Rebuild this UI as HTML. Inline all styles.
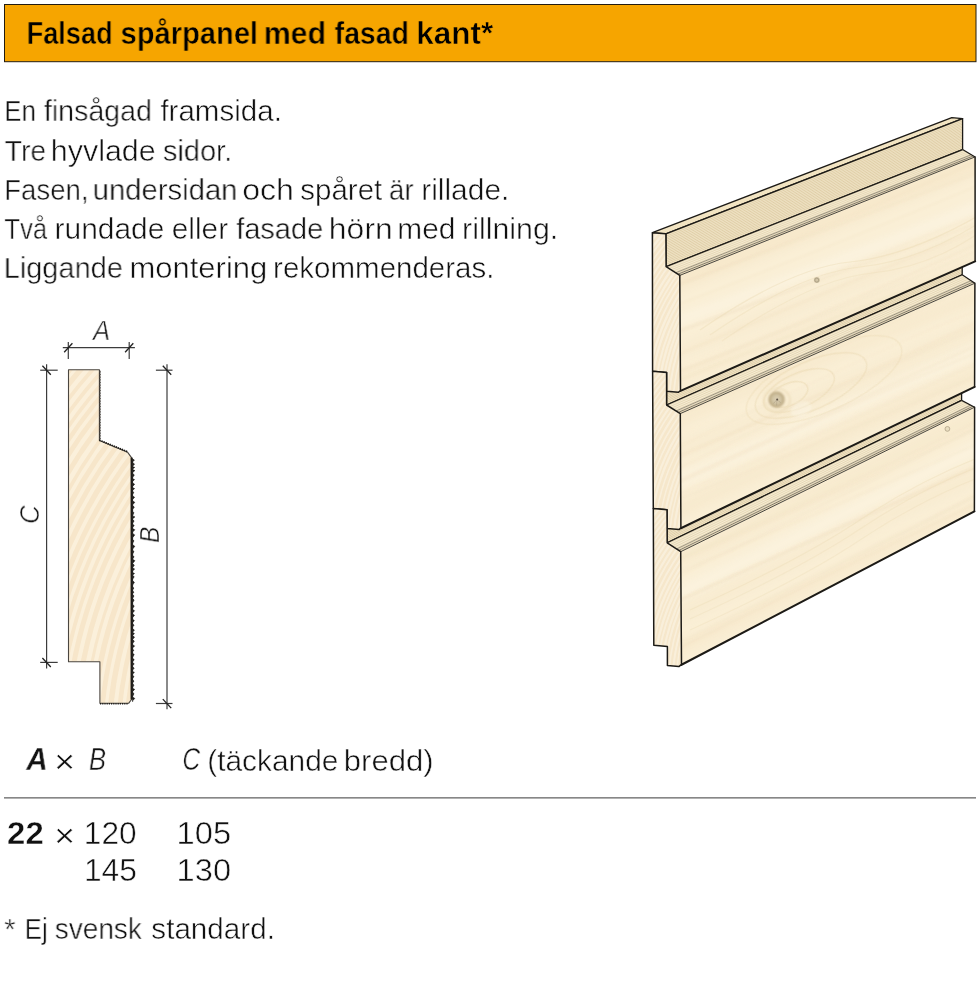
<!DOCTYPE html>
<html lang="sv">
<head>
<meta charset="utf-8">
<title>Falsad spårpanel med fasad kant</title>
<style>
html,body{margin:0;padding:0;background:#fff;}
body{width:980px;height:1007px;position:relative;overflow:hidden;font-family:"Liberation Sans",sans-serif;color:#111;}
.ln{position:absolute;left:0;top:0;margin:0;padding:0;width:0;height:0;font-size:0;font-weight:normal;}
.t{position:absolute;display:block;white-space:nowrap;line-height:1;transform-origin:0 0;will-change:transform;}
.b{font-weight:bold;}
.th{-webkit-text-stroke:0.5px #fff;}
.tho{-webkit-text-stroke:0.5px #F6A500;color:#000;}
.thb{-webkit-text-stroke:0.35px #fff;}
.i{font-style:italic;}
#art{position:absolute;left:0;top:0;}
.rot{position:absolute;width:0;height:0;transform:rotate(-90deg);transform-origin:0 0;will-change:transform;}
.rot span{position:absolute;left:0;top:-23px;line-height:1;white-space:nowrap;}
</style>
</head>
<body>
<svg id="art" width="980" height="1007" viewBox="0 0 980 1007">
<defs>
<filter id="bl05" x="-20%" y="-20%" width="140%" height="140%"><feGaussianBlur stdDeviation="0.5"/></filter>
<filter id="bl1" x="-20%" y="-20%" width="140%" height="140%"><feGaussianBlur stdDeviation="1.0"/></filter>
<filter id="bl4" x="-20%" y="-20%" width="140%" height="140%"><feGaussianBlur stdDeviation="4.0"/></filter>
<radialGradient id="knot"><stop offset="0" stop-color="#DCD1B6"/><stop offset=".55" stop-color="#CFC1A0"/><stop offset=".85" stop-color="#B7A47C"/><stop offset="1" stop-color="#DCCBA4" stop-opacity="0"/></radialGradient>
</defs>
<rect x="4.5" y="4.5" width="971.5" height="57.2" fill="#F6A500" stroke="#231c10" stroke-width="1"/>
<line x1="4" y1="797.9" x2="976" y2="797.9" stroke="#3a3a3a" stroke-width="1"/>
<g id="panel">
<polygon points="652.4,232.7 951.8,117.6 962.6,118.6 665.9,233.8" fill="#F2E4C2" stroke="#1c1a16" stroke-width="1.3" stroke-linejoin="round"/>
<polygon points="665.9,233.8 962.6,118.6 962.6,149.6 666.1,266.7" fill="#F4E9CE"/>
<path d="M665.9,234.62L962.6,119.38M665.9,236.27L962.6,120.92M665.9,237.91L962.6,122.47M665.9,239.56L962.6,124.02M665.9,241.20L962.6,125.57M666.0,242.85L962.6,127.12M666.0,244.49L962.6,128.67M666.0,246.14L962.6,130.22M666.0,247.78L962.6,131.78M666.0,249.43L962.6,133.32M666.0,251.07L962.6,134.88M666.0,252.72L962.6,136.42M666.0,254.36L962.6,137.97M666.0,256.01L962.6,139.53M666.0,257.65L962.6,141.07M666.1,259.30L962.6,142.62M666.1,260.94L962.6,144.17M666.1,262.59L962.6,145.72M666.1,264.23L962.6,147.28M666.1,265.88L962.6,148.82" stroke="#DBC89E" stroke-width="0.8" fill="none"/>
<polygon points="665.9,233.8 962.6,118.6 962.6,149.6 666.1,266.7" fill="none" stroke="#1c1a16" stroke-width="1.3" stroke-linejoin="round"/>
<polygon points="666.1,266.7 962.6,149.6 975.1,156.9 679.8,275.4" fill="#F5EBD2" stroke="none"/>
<path d="M667.1,267.32L963.5,150.12M669.0,268.56L965.3,151.16M671.0,269.81L967.1,152.21M673.0,271.05L968.9,153.25M674.9,272.29L970.6,154.29M676.9,273.54L972.4,155.34M678.8,274.78L974.2,156.38" stroke="#E2D2AC" stroke-width="0.75" fill="none"/>
<line x1="666.1" y1="266.7" x2="962.6" y2="149.6" stroke="#1c1a16" stroke-width="1.2"/>
<line x1="675.7" y1="272.79" x2="971.4" y2="154.71" stroke="#1c1a16" stroke-width="0.55" opacity="0.75"/>
<line x1="677.9" y1="274.18" x2="973.4" y2="155.88" stroke="#1c1a16" stroke-width="0.6" opacity="0.9"/>
<line x1="962.6" y1="149.6" x2="975.1" y2="156.9" stroke="#1c1a16" stroke-width="1.2"/>
<polygon points="666.6,372.4 962.2,243.8 962.2,274.8 666.6,405.0" fill="#F4E9CE"/>
<path d="M666.6,373.21L962.2,244.58M666.6,374.84L962.2,246.12M666.6,376.47L962.2,247.68M666.6,378.10L962.2,249.23M666.6,379.73L962.2,250.78M666.6,381.37L962.2,252.33M666.6,383.00L962.2,253.88M666.6,384.62L962.2,255.43M666.6,386.25L962.2,256.98M666.6,387.88L962.2,258.53M666.6,389.51L962.2,260.07M666.6,391.14L962.2,261.62M666.6,392.77L962.2,263.18M666.6,394.40L962.2,264.73M666.6,396.03L962.2,266.28M666.6,397.67L962.2,267.82M666.6,399.30L962.2,269.38M666.6,400.93L962.2,270.93M666.6,402.56L962.2,272.48M666.6,404.19L962.2,274.03" stroke="#DBC89E" stroke-width="0.8" fill="none"/>
<polygon points="666.6,372.4 962.2,243.8 962.2,274.8 666.6,405.0" fill="none" stroke="#1c1a16" stroke-width="1.3" stroke-linejoin="round"/>
<polygon points="666.6,405.0 962.2,274.8 974.9,283.2 680.3,413.6" fill="#F5EBD2" stroke="none"/>
<path d="M667.6,405.61L963.1,275.40M669.5,406.84L964.9,276.60M671.5,408.07L966.7,277.80M673.5,409.30L968.5,279.00M675.4,410.53L970.4,280.20M677.4,411.76L972.2,281.40M679.3,412.99L974.0,282.60" stroke="#E2D2AC" stroke-width="0.75" fill="none"/>
<line x1="666.6" y1="405.0" x2="962.2" y2="274.8" stroke="#1c1a16" stroke-width="1.2"/>
<line x1="676.2" y1="411.02" x2="971.1" y2="280.68" stroke="#1c1a16" stroke-width="0.55" opacity="0.75"/>
<line x1="678.4" y1="412.40" x2="973.1" y2="282.02" stroke="#1c1a16" stroke-width="0.6" opacity="0.9"/>
<line x1="962.2" y1="274.8" x2="974.9" y2="283.2" stroke="#1c1a16" stroke-width="1.2"/>
<polygon points="667.0,509.8 961.6,369.4 961.6,400.4 667.2,542.8" fill="#F4E9CE"/>
<path d="M667.0,510.62L961.6,370.17M667.0,512.27L961.6,371.72M667.0,513.92L961.6,373.27M667.0,515.58L961.6,374.82M667.0,517.23L961.6,376.38M667.1,518.88L961.6,377.92M667.1,520.52L961.6,379.47M667.1,522.17L961.6,381.02M667.1,523.82L961.6,382.57M667.1,525.48L961.6,384.12M667.1,527.12L961.6,385.67M667.1,528.77L961.6,387.22M667.1,530.42L961.6,388.77M667.1,532.07L961.6,390.32M667.1,533.73L961.6,391.88M667.2,535.38L961.6,393.42M667.2,537.02L961.6,394.97M667.2,538.67L961.6,396.52M667.2,540.32L961.6,398.07M667.2,541.97L961.6,399.62" stroke="#DBC89E" stroke-width="0.8" fill="none"/>
<polygon points="667.0,509.8 961.6,369.4 961.6,400.4 667.2,542.8" fill="none" stroke="#1c1a16" stroke-width="1.3" stroke-linejoin="round"/>
<polygon points="667.2,542.8 961.6,400.4 974.6,407.2 680.7,551.7" fill="#F5EBD2" stroke="none"/>
<path d="M668.2,543.44L962.5,400.89M670.1,544.71L964.4,401.86M672.0,545.98L966.2,402.83M674.0,547.25L968.1,403.80M675.9,548.52L970.0,404.77M677.8,549.79L971.8,405.74M679.7,551.06L973.7,406.71" stroke="#E2D2AC" stroke-width="0.75" fill="none"/>
<line x1="667.2" y1="542.8" x2="961.6" y2="400.4" stroke="#1c1a16" stroke-width="1.2"/>
<line x1="676.7" y1="549.03" x2="970.7" y2="405.16" stroke="#1c1a16" stroke-width="0.55" opacity="0.75"/>
<line x1="678.8" y1="550.45" x2="972.8" y2="406.25" stroke="#1c1a16" stroke-width="0.6" opacity="0.9"/>
<line x1="961.6" y1="400.4" x2="974.6" y2="407.2" stroke="#1c1a16" stroke-width="1.2"/>
<clipPath id="fc0"><polygon points="679.8,275.4 975.1,156.9 975.1,261.0 680.5,390.5"/></clipPath>
<polygon points="679.8,275.4 975.1,156.9 975.1,261.0 680.5,390.5" fill="#FAEFD6"/>
<g clip-path="url(#fc0)"><path d="M669.8,282.3 Q827.5,220.0 985.1,158.7" fill="none" stroke="#F3E0BE" stroke-width="22.0" opacity="0.38" filter="url(#bl4)"/><path d="M670.1,323.7 Q827.6,266.3 985.1,204.0" fill="none" stroke="#FDF7E8" stroke-width="11.0" opacity="0.5" filter="url(#bl4)"/><path d="M670.3,356.0 Q827.7,293.5 985.1,232.7" fill="none" stroke="#F4E4C5" stroke-width="13.2" opacity="0.28" filter="url(#bl4)"/><path d="M670.5,382.4 Q827.8,320.3 985.1,257.5" fill="none" stroke="#F3E1C0" stroke-width="11.0" opacity="0.32" filter="url(#bl4)"/><path d="M669.9,288.0 Q878.6,206.4 985.1,157.4" fill="none" stroke="#F0DCBA" stroke-width="1.9" opacity="0.14" filter="url(#bl1)"/><path d="M670.3,357.9 Q791.0,306.5 985.1,226.6" fill="none" stroke="#F0DCBA" stroke-width="2.4" opacity="0.23" filter="url(#bl1)"/><path d="M670.0,307.6 Q874.9,229.5 985.1,182.6" fill="none" stroke="#F0DCBA" stroke-width="1.7" opacity="0.19" filter="url(#bl1)"/><path d="M669.9,287.5 Q859.8,217.0 985.1,170.3" fill="none" stroke="#F0DCBA" stroke-width="1.7" opacity="0.22" filter="url(#bl1)"/><path d="M670.4,373.7 Q844.0,309.2 985.1,247.3" fill="none" stroke="#F0DCBA" stroke-width="1.6" opacity="0.18" filter="url(#bl1)"/><path d="M670.5,383.8 Q860.2,307.9 985.1,259.3" fill="none" stroke="#F0DCBA" stroke-width="1.9" opacity="0.18" filter="url(#bl1)"/><path d="M670.2,334.1 Q811.5,283.3 985.1,220.5" fill="none" stroke="#F0DCBA" stroke-width="2.6" opacity="0.21" filter="url(#bl1)"/><path d="M670.4,376.0 Q868.7,295.0 985.1,240.2" fill="none" stroke="#F0DCBA" stroke-width="2.5" opacity="0.21" filter="url(#bl1)"/><path d="M670.2,334.3 Q786.0,293.0 985.1,212.3" fill="none" stroke="#F0DCBA" stroke-width="2.8" opacity="0.12" filter="url(#bl1)"/><path d="M700,330 Q790,268 850,262 T985,212.0" fill="none" stroke="#EBDAB3" stroke-width="1.2" opacity="0.4" filter="url(#bl05)"/><path d="M710,335 Q800,273 860,267 T985,219.5" fill="none" stroke="#EBDAB3" stroke-width="1.2" opacity="0.35" filter="url(#bl05)"/><path d="M722,341 Q812,279 872,273 T985,228.5" fill="none" stroke="#EBDAB3" stroke-width="1.2" opacity="0.3" filter="url(#bl05)"/></g>
<polyline points="975.1,156.9 975.1,261.0" fill="none" stroke="#1c1a16" stroke-width="1.5" stroke-linecap="round"/>
<polyline points="975.1,261.4 680.5,390.9" fill="none" stroke="#1c1a16" stroke-width="2.1" stroke-linecap="round"/>
<polyline points="679.8,275.4 975.1,156.9" fill="none" stroke="#1c1a16" stroke-width="0.8"/>
<clipPath id="fc1"><polygon points="680.3,413.6 974.9,283.2 974.6,386.5 680.9,527.8"/></clipPath>
<polygon points="680.3,413.6 974.9,283.2 974.6,386.5 680.9,527.8" fill="#FAEFD6"/>
<g clip-path="url(#fc1)"><path d="M670.3,422.7 Q827.6,353.9 984.9,292.5" fill="none" stroke="#F4E2C1" stroke-width="15.4" opacity="0.32" filter="url(#bl4)"/><path d="M670.5,453.6 Q827.6,394.4 984.8,325.1" fill="none" stroke="#F4E5C7" stroke-width="17.6" opacity="0.28" filter="url(#bl4)"/><path d="M670.7,484.4 Q827.7,417.6 984.7,346.8" fill="none" stroke="#FDF7E8" stroke-width="13.2" opacity="0.42" filter="url(#bl4)"/><path d="M670.8,514.1 Q827.7,439.0 984.6,370.6" fill="none" stroke="#F3E1C0" stroke-width="15.4" opacity="0.32" filter="url(#bl4)"/><path d="M670.5,450.7 Q883.1,346.2 984.8,307.6" fill="none" stroke="#F0DCBA" stroke-width="1.7" opacity="0.11" filter="url(#bl1)"/><path d="M670.7,497.5 Q807.3,440.2 984.7,359.8" fill="none" stroke="#F0DCBA" stroke-width="2.0" opacity="0.13" filter="url(#bl1)"/><path d="M670.5,461.1 Q865.7,373.9 984.8,318.6" fill="none" stroke="#F0DCBA" stroke-width="2.5" opacity="0.22" filter="url(#bl1)"/><path d="M670.5,458.3 Q816.4,398.1 984.8,322.9" fill="none" stroke="#F0DCBA" stroke-width="1.4" opacity="0.16" filter="url(#bl1)"/><path d="M670.6,472.6 Q851.8,380.6 984.8,326.3" fill="none" stroke="#F0DCBA" stroke-width="2.3" opacity="0.12" filter="url(#bl1)"/><path d="M670.3,418.2 Q786.5,370.9 984.9,279.9" fill="none" stroke="#F0DCBA" stroke-width="2.6" opacity="0.15" filter="url(#bl1)"/><path d="M670.7,486.4 Q871.9,394.6 984.7,349.3" fill="none" stroke="#F0DCBA" stroke-width="2.8" opacity="0.20" filter="url(#bl1)"/><path d="M670.7,484.3 Q772.7,437.6 984.7,342.0" fill="none" stroke="#F0DCBA" stroke-width="2.9" opacity="0.22" filter="url(#bl1)"/><path d="M670.8,501.9 Q860.0,427.1 984.6,372.1" fill="none" stroke="#F0DCBA" stroke-width="2.7" opacity="0.12" filter="url(#bl1)"/><ellipse cx="789" cy="394.5" rx="20" ry="11" transform="rotate(-24 789 394.5)" fill="none" stroke="#E9D7AF" stroke-width="1.3" opacity="0.55" filter="url(#bl05)"/><ellipse cx="799" cy="390.5" rx="38" ry="17" transform="rotate(-24 799 390.5)" fill="none" stroke="#E9D7AF" stroke-width="1.3" opacity="0.5" filter="url(#bl05)"/><ellipse cx="811" cy="385.5" rx="60" ry="24" transform="rotate(-24 811 385.5)" fill="none" stroke="#E9D7AF" stroke-width="1.3" opacity="0.45" filter="url(#bl05)"/><ellipse cx="824" cy="380" rx="84" ry="31" transform="rotate(-24 824 380)" fill="none" stroke="#E9D7AF" stroke-width="1.3" opacity="0.35" filter="url(#bl05)"/><ellipse cx="801" cy="409" rx="11" ry="7" transform="rotate(-24 801 409)" fill="#FDF8EA" opacity=".4" filter="url(#bl1)"/></g>
<polyline points="974.9,283.2 974.6,386.5" fill="none" stroke="#1c1a16" stroke-width="1.5" stroke-linecap="round"/>
<polyline points="974.6,386.9 680.9,528.2" fill="none" stroke="#1c1a16" stroke-width="2.1" stroke-linecap="round"/>
<polyline points="680.3,413.6 974.9,283.2" fill="none" stroke="#1c1a16" stroke-width="0.8"/>
<clipPath id="fc2"><polygon points="680.7,551.7 974.6,407.2 974.4,511.0 681.5,664.4"/></clipPath>
<polygon points="680.7,551.7 974.6,407.2 974.4,511.0 681.5,664.4" fill="#FAEFD6"/>
<g clip-path="url(#fc2)"><path d="M670.8,563.0 Q827.7,489.5 984.6,413.2" fill="none" stroke="#F4E2C1" stroke-width="17.6" opacity="0.32" filter="url(#bl4)"/><path d="M671.0,596.8 Q827.8,523.2 984.5,444.6" fill="none" stroke="#FDF7E8" stroke-width="13.2" opacity="0.42" filter="url(#bl4)"/><path d="M671.2,619.3 Q827.8,543.7 984.5,470.8" fill="none" stroke="#F4E4C5" stroke-width="15.4" opacity="0.28" filter="url(#bl4)"/><path d="M671.4,653.1 Q827.9,578.4 984.4,502.1" fill="none" stroke="#F4E2C1" stroke-width="13.2" opacity="0.32" filter="url(#bl4)"/><path d="M670.8,561.0 Q830.0,493.9 984.6,418.5" fill="none" stroke="#F0DCBA" stroke-width="2.6" opacity="0.15" filter="url(#bl1)"/><path d="M670.9,575.5 Q850.0,499.4 984.5,440.7" fill="none" stroke="#F0DCBA" stroke-width="2.1" opacity="0.17" filter="url(#bl1)"/><path d="M670.9,579.6 Q842.0,495.9 984.6,423.7" fill="none" stroke="#F0DCBA" stroke-width="2.5" opacity="0.13" filter="url(#bl1)"/><path d="M670.8,563.9 Q828.8,497.3 984.6,424.8" fill="none" stroke="#F0DCBA" stroke-width="2.1" opacity="0.16" filter="url(#bl1)"/><path d="M671.4,646.6 Q838.3,564.9 984.4,490.7" fill="none" stroke="#F0DCBA" stroke-width="2.1" opacity="0.18" filter="url(#bl1)"/><path d="M671.1,603.8 Q865.9,517.1 984.5,463.1" fill="none" stroke="#F0DCBA" stroke-width="2.2" opacity="0.23" filter="url(#bl1)"/><path d="M671.1,604.0 Q849.3,521.8 984.5,463.2" fill="none" stroke="#F0DCBA" stroke-width="2.6" opacity="0.18" filter="url(#bl1)"/><path d="M671.4,652.5 Q883.5,547.4 984.4,499.6" fill="none" stroke="#F0DCBA" stroke-width="2.0" opacity="0.23" filter="url(#bl1)"/><path d="M671.4,650.4 Q869.9,553.1 984.4,490.9" fill="none" stroke="#F0DCBA" stroke-width="2.0" opacity="0.14" filter="url(#bl1)"/><path d="M690,610 Q800,560 860,520 T985,455" fill="none" stroke="#EBDAB3" stroke-width="1.2" opacity="0.35" filter="url(#bl05)"/><path d="M690,619 Q800,569 860,529 T985,464" fill="none" stroke="#EBDAB3" stroke-width="1.2" opacity="0.3" filter="url(#bl05)"/><path d="M690,630 Q800,580 860,540 T985,475" fill="none" stroke="#EBDAB3" stroke-width="1.2" opacity="0.3" filter="url(#bl05)"/></g>
<polyline points="974.6,407.2 974.4,511.0" fill="none" stroke="#1c1a16" stroke-width="1.5" stroke-linecap="round"/>
<polyline points="974.4,511.4 681.5,664.8" fill="none" stroke="#1c1a16" stroke-width="2.1" stroke-linecap="round"/>
<polyline points="680.7,551.7 974.6,407.2" fill="none" stroke="#1c1a16" stroke-width="0.8"/>
<clipPath id="ec0"><polygon points="652.4,232.7 665.9,233.8 666.1,266.7 679.8,275.4 680.5,390.5 678.3,392.3 666.6,391.3 666.6,372.4 652.6,371.2"/></clipPath>
<polygon points="652.4,232.7 665.9,233.8 666.1,266.7 679.8,275.4 680.5,390.5 678.3,392.3 666.6,391.3 666.6,372.4 652.6,371.2" fill="#F6E7CB"/>
<g clip-path="url(#ec0)"><circle cx="867.4" cy="410.7" r="170.0" fill="none" stroke="#FCF5E6" stroke-width="1.9" opacity=".6"/><circle cx="867.4" cy="410.7" r="174.5" fill="none" stroke="#FCF5E6" stroke-width="1.5" opacity=".6"/><circle cx="867.4" cy="410.7" r="178.2" fill="none" stroke="#FCF5E6" stroke-width="2.3" opacity=".6"/><circle cx="867.4" cy="410.7" r="182.4" fill="none" stroke="#FCF5E6" stroke-width="1.6" opacity=".6"/><circle cx="867.4" cy="410.7" r="186.2" fill="none" stroke="#FCF5E6" stroke-width="2.2" opacity=".6"/><circle cx="867.4" cy="410.7" r="190.1" fill="none" stroke="#FCF5E6" stroke-width="1.5" opacity=".6"/><circle cx="867.4" cy="410.7" r="194.6" fill="none" stroke="#FCF5E6" stroke-width="1.6" opacity=".6"/><circle cx="867.4" cy="410.7" r="198.8" fill="none" stroke="#FCF5E6" stroke-width="2.0" opacity=".6"/><circle cx="867.4" cy="410.7" r="202.7" fill="none" stroke="#FCF5E6" stroke-width="2.3" opacity=".6"/><circle cx="867.4" cy="410.7" r="206.3" fill="none" stroke="#FCF5E6" stroke-width="2.0" opacity=".6"/><circle cx="867.4" cy="410.7" r="209.9" fill="none" stroke="#FCF5E6" stroke-width="2.3" opacity=".6"/><circle cx="867.4" cy="410.7" r="213.5" fill="none" stroke="#FCF5E6" stroke-width="1.9" opacity=".6"/><circle cx="867.4" cy="410.7" r="217.9" fill="none" stroke="#FCF5E6" stroke-width="2.2" opacity=".6"/><circle cx="867.4" cy="410.7" r="221.4" fill="none" stroke="#FCF5E6" stroke-width="2.2" opacity=".6"/><circle cx="867.4" cy="410.7" r="225.8" fill="none" stroke="#FCF5E6" stroke-width="1.8" opacity=".6"/><circle cx="867.4" cy="410.7" r="230.1" fill="none" stroke="#FCF5E6" stroke-width="1.7" opacity=".6"/><circle cx="867.4" cy="410.7" r="233.7" fill="none" stroke="#FCF5E6" stroke-width="1.6" opacity=".6"/><circle cx="867.4" cy="410.7" r="237.4" fill="none" stroke="#FCF5E6" stroke-width="2.2" opacity=".6"/><circle cx="867.4" cy="410.7" r="241.4" fill="none" stroke="#FCF5E6" stroke-width="2.3" opacity=".6"/><circle cx="867.4" cy="410.7" r="245.9" fill="none" stroke="#FCF5E6" stroke-width="1.7" opacity=".6"/><circle cx="867.4" cy="410.7" r="249.8" fill="none" stroke="#FCF5E6" stroke-width="1.6" opacity=".6"/><circle cx="867.4" cy="410.7" r="253.9" fill="none" stroke="#FCF5E6" stroke-width="2.0" opacity=".6"/><circle cx="867.4" cy="410.7" r="258.0" fill="none" stroke="#FCF5E6" stroke-width="1.6" opacity=".6"/><circle cx="867.4" cy="410.7" r="262.1" fill="none" stroke="#FCF5E6" stroke-width="1.6" opacity=".6"/><circle cx="867.4" cy="410.7" r="266.5" fill="none" stroke="#FCF5E6" stroke-width="1.9" opacity=".6"/><circle cx="867.4" cy="410.7" r="270.1" fill="none" stroke="#FCF5E6" stroke-width="2.3" opacity=".6"/><circle cx="867.4" cy="410.7" r="274.6" fill="none" stroke="#FCF5E6" stroke-width="1.8" opacity=".6"/><circle cx="867.4" cy="410.7" r="279.1" fill="none" stroke="#FCF5E6" stroke-width="1.7" opacity=".6"/><circle cx="867.4" cy="410.7" r="283.1" fill="none" stroke="#FCF5E6" stroke-width="2.0" opacity=".6"/><circle cx="867.4" cy="410.7" r="287.5" fill="none" stroke="#FCF5E6" stroke-width="1.6" opacity=".6"/><circle cx="867.4" cy="410.7" r="290.9" fill="none" stroke="#FCF5E6" stroke-width="1.6" opacity=".6"/><circle cx="867.4" cy="410.7" r="294.8" fill="none" stroke="#FCF5E6" stroke-width="2.1" opacity=".6"/><circle cx="867.4" cy="410.7" r="299.1" fill="none" stroke="#FCF5E6" stroke-width="1.6" opacity=".6"/></g>
<polygon points="652.4,232.7 665.9,233.8 666.1,266.7 679.8,275.4 680.5,390.5 678.3,392.3 666.6,391.3 666.6,372.4 652.6,371.2" fill="none" stroke="#1c1a16" stroke-width="1.5" stroke-linejoin="round"/>
<clipPath id="ec1"><polygon points="652.6,371.2 666.6,372.4 666.6,405.0 680.3,413.6 680.9,527.8 679.3,529.4 667.1,528.5 667.0,509.8 653.3,508.6"/></clipPath>
<polygon points="652.6,371.2 666.6,372.4 666.6,405.0 680.3,413.6 680.9,527.8 679.3,529.4 667.1,528.5 667.0,509.8 653.3,508.6" fill="#F6E7CB"/>
<g clip-path="url(#ec1)"><circle cx="867.6" cy="549.2" r="170.0" fill="none" stroke="#FCF5E6" stroke-width="1.8" opacity=".6"/><circle cx="867.6" cy="549.2" r="173.7" fill="none" stroke="#FCF5E6" stroke-width="1.6" opacity=".6"/><circle cx="867.6" cy="549.2" r="178.2" fill="none" stroke="#FCF5E6" stroke-width="2.0" opacity=".6"/><circle cx="867.6" cy="549.2" r="182.4" fill="none" stroke="#FCF5E6" stroke-width="1.9" opacity=".6"/><circle cx="867.6" cy="549.2" r="186.3" fill="none" stroke="#FCF5E6" stroke-width="2.1" opacity=".6"/><circle cx="867.6" cy="549.2" r="190.4" fill="none" stroke="#FCF5E6" stroke-width="2.1" opacity=".6"/><circle cx="867.6" cy="549.2" r="194.5" fill="none" stroke="#FCF5E6" stroke-width="2.2" opacity=".6"/><circle cx="867.6" cy="549.2" r="198.5" fill="none" stroke="#FCF5E6" stroke-width="1.6" opacity=".6"/><circle cx="867.6" cy="549.2" r="202.1" fill="none" stroke="#FCF5E6" stroke-width="2.1" opacity=".6"/><circle cx="867.6" cy="549.2" r="205.7" fill="none" stroke="#FCF5E6" stroke-width="2.0" opacity=".6"/><circle cx="867.6" cy="549.2" r="209.8" fill="none" stroke="#FCF5E6" stroke-width="1.5" opacity=".6"/><circle cx="867.6" cy="549.2" r="214.1" fill="none" stroke="#FCF5E6" stroke-width="1.5" opacity=".6"/><circle cx="867.6" cy="549.2" r="218.6" fill="none" stroke="#FCF5E6" stroke-width="2.2" opacity=".6"/><circle cx="867.6" cy="549.2" r="222.2" fill="none" stroke="#FCF5E6" stroke-width="2.1" opacity=".6"/><circle cx="867.6" cy="549.2" r="226.5" fill="none" stroke="#FCF5E6" stroke-width="1.6" opacity=".6"/><circle cx="867.6" cy="549.2" r="230.7" fill="none" stroke="#FCF5E6" stroke-width="1.6" opacity=".6"/><circle cx="867.6" cy="549.2" r="235.2" fill="none" stroke="#FCF5E6" stroke-width="2.1" opacity=".6"/><circle cx="867.6" cy="549.2" r="239.8" fill="none" stroke="#FCF5E6" stroke-width="1.5" opacity=".6"/><circle cx="867.6" cy="549.2" r="243.6" fill="none" stroke="#FCF5E6" stroke-width="2.0" opacity=".6"/><circle cx="867.6" cy="549.2" r="247.7" fill="none" stroke="#FCF5E6" stroke-width="1.6" opacity=".6"/><circle cx="867.6" cy="549.2" r="252.2" fill="none" stroke="#FCF5E6" stroke-width="2.2" opacity=".6"/><circle cx="867.6" cy="549.2" r="255.9" fill="none" stroke="#FCF5E6" stroke-width="1.6" opacity=".6"/><circle cx="867.6" cy="549.2" r="260.1" fill="none" stroke="#FCF5E6" stroke-width="1.8" opacity=".6"/><circle cx="867.6" cy="549.2" r="264.3" fill="none" stroke="#FCF5E6" stroke-width="1.9" opacity=".6"/><circle cx="867.6" cy="549.2" r="268.2" fill="none" stroke="#FCF5E6" stroke-width="1.5" opacity=".6"/><circle cx="867.6" cy="549.2" r="271.8" fill="none" stroke="#FCF5E6" stroke-width="1.9" opacity=".6"/><circle cx="867.6" cy="549.2" r="276.0" fill="none" stroke="#FCF5E6" stroke-width="1.8" opacity=".6"/><circle cx="867.6" cy="549.2" r="280.3" fill="none" stroke="#FCF5E6" stroke-width="1.9" opacity=".6"/><circle cx="867.6" cy="549.2" r="284.8" fill="none" stroke="#FCF5E6" stroke-width="2.0" opacity=".6"/><circle cx="867.6" cy="549.2" r="288.6" fill="none" stroke="#FCF5E6" stroke-width="1.6" opacity=".6"/><circle cx="867.6" cy="549.2" r="292.1" fill="none" stroke="#FCF5E6" stroke-width="1.5" opacity=".6"/><circle cx="867.6" cy="549.2" r="296.5" fill="none" stroke="#FCF5E6" stroke-width="2.2" opacity=".6"/></g>
<polygon points="652.6,371.2 666.6,372.4 666.6,405.0 680.3,413.6 680.9,527.8 679.3,529.4 667.1,528.5 667.0,509.8 653.3,508.6" fill="none" stroke="#1c1a16" stroke-width="1.5" stroke-linejoin="round"/>
<clipPath id="ec2"><polygon points="653.3,508.6 667.0,509.8 667.2,542.8 680.7,551.7 681.5,664.4 678.9,666.6 667.4,665.6 667.4,646.6 653.8,645.2"/></clipPath>
<polygon points="653.3,508.6 667.0,509.8 667.2,542.8 680.7,551.7 681.5,664.4 678.9,666.6 667.4,665.6 667.4,646.6 653.8,645.2" fill="#F6E7CB"/>
<g clip-path="url(#ec2)"><circle cx="868.3" cy="686.6" r="170.0" fill="none" stroke="#FCF5E6" stroke-width="2.0" opacity=".6"/><circle cx="868.3" cy="686.6" r="173.4" fill="none" stroke="#FCF5E6" stroke-width="1.7" opacity=".6"/><circle cx="868.3" cy="686.6" r="177.1" fill="none" stroke="#FCF5E6" stroke-width="2.1" opacity=".6"/><circle cx="868.3" cy="686.6" r="181.3" fill="none" stroke="#FCF5E6" stroke-width="2.2" opacity=".6"/><circle cx="868.3" cy="686.6" r="184.8" fill="none" stroke="#FCF5E6" stroke-width="1.8" opacity=".6"/><circle cx="868.3" cy="686.6" r="188.2" fill="none" stroke="#FCF5E6" stroke-width="1.7" opacity=".6"/><circle cx="868.3" cy="686.6" r="192.3" fill="none" stroke="#FCF5E6" stroke-width="1.5" opacity=".6"/><circle cx="868.3" cy="686.6" r="195.9" fill="none" stroke="#FCF5E6" stroke-width="2.0" opacity=".6"/><circle cx="868.3" cy="686.6" r="199.9" fill="none" stroke="#FCF5E6" stroke-width="1.7" opacity=".6"/><circle cx="868.3" cy="686.6" r="204.1" fill="none" stroke="#FCF5E6" stroke-width="2.1" opacity=".6"/><circle cx="868.3" cy="686.6" r="207.5" fill="none" stroke="#FCF5E6" stroke-width="2.1" opacity=".6"/><circle cx="868.3" cy="686.6" r="211.7" fill="none" stroke="#FCF5E6" stroke-width="1.8" opacity=".6"/><circle cx="868.3" cy="686.6" r="215.3" fill="none" stroke="#FCF5E6" stroke-width="2.3" opacity=".6"/><circle cx="868.3" cy="686.6" r="219.1" fill="none" stroke="#FCF5E6" stroke-width="1.6" opacity=".6"/><circle cx="868.3" cy="686.6" r="222.6" fill="none" stroke="#FCF5E6" stroke-width="2.2" opacity=".6"/><circle cx="868.3" cy="686.6" r="226.7" fill="none" stroke="#FCF5E6" stroke-width="2.1" opacity=".6"/><circle cx="868.3" cy="686.6" r="231.0" fill="none" stroke="#FCF5E6" stroke-width="1.9" opacity=".6"/><circle cx="868.3" cy="686.6" r="235.6" fill="none" stroke="#FCF5E6" stroke-width="1.8" opacity=".6"/><circle cx="868.3" cy="686.6" r="239.6" fill="none" stroke="#FCF5E6" stroke-width="2.2" opacity=".6"/><circle cx="868.3" cy="686.6" r="243.8" fill="none" stroke="#FCF5E6" stroke-width="2.2" opacity=".6"/><circle cx="868.3" cy="686.6" r="247.9" fill="none" stroke="#FCF5E6" stroke-width="2.1" opacity=".6"/><circle cx="868.3" cy="686.6" r="251.3" fill="none" stroke="#FCF5E6" stroke-width="1.7" opacity=".6"/><circle cx="868.3" cy="686.6" r="255.1" fill="none" stroke="#FCF5E6" stroke-width="1.6" opacity=".6"/><circle cx="868.3" cy="686.6" r="258.8" fill="none" stroke="#FCF5E6" stroke-width="1.6" opacity=".6"/><circle cx="868.3" cy="686.6" r="262.5" fill="none" stroke="#FCF5E6" stroke-width="2.0" opacity=".6"/><circle cx="868.3" cy="686.6" r="266.3" fill="none" stroke="#FCF5E6" stroke-width="1.8" opacity=".6"/><circle cx="868.3" cy="686.6" r="270.0" fill="none" stroke="#FCF5E6" stroke-width="1.7" opacity=".6"/><circle cx="868.3" cy="686.6" r="274.5" fill="none" stroke="#FCF5E6" stroke-width="2.0" opacity=".6"/><circle cx="868.3" cy="686.6" r="278.6" fill="none" stroke="#FCF5E6" stroke-width="1.6" opacity=".6"/><circle cx="868.3" cy="686.6" r="282.9" fill="none" stroke="#FCF5E6" stroke-width="1.6" opacity=".6"/><circle cx="868.3" cy="686.6" r="286.8" fill="none" stroke="#FCF5E6" stroke-width="2.3" opacity=".6"/><circle cx="868.3" cy="686.6" r="290.9" fill="none" stroke="#FCF5E6" stroke-width="1.9" opacity=".6"/><circle cx="868.3" cy="686.6" r="295.2" fill="none" stroke="#FCF5E6" stroke-width="2.2" opacity=".6"/><circle cx="868.3" cy="686.6" r="299.5" fill="none" stroke="#FCF5E6" stroke-width="1.7" opacity=".6"/></g>
<polygon points="653.3,508.6 667.0,509.8 667.2,542.8 680.7,551.7 681.5,664.4 678.9,666.6 667.4,665.6 667.4,646.6 653.8,645.2" fill="none" stroke="#1c1a16" stroke-width="1.5" stroke-linejoin="round"/>
<ellipse cx="777" cy="400" rx="13" ry="11.5" fill="none" stroke="#EEDFBD" stroke-width="2.2" opacity=".8" filter="url(#bl1)"/>
<circle cx="776.6" cy="399.5" r="8.8" fill="url(#knot)" filter="url(#bl1)"/>
<path d="M776.9,399.6 L773.5,403.5 M776.9,399.6 L780.8,402.8 M776.9,399.6 L776.6,405.5" stroke="#9a8d74" stroke-width="0.6" opacity=".6" fill="none"/>
<circle cx="777.2" cy="399.4" r="1.0" fill="#5b5042"/>
<circle cx="816.8" cy="280.1" r="3.0" fill="#D2C5A6" filter="url(#bl05)"/>
<circle cx="816.8" cy="280.1" r="2.0" fill="none" stroke="#A99C82" stroke-width="0.9" filter="url(#bl05)"/>
<circle cx="947.4" cy="428.9" r="2.4" fill="#E9DDBF" stroke="#B5A78C" stroke-width="0.9" filter="url(#bl05)"/>
</g>
<g id="section">
<clipPath id="pc"><path d="M68.5,369.7 L99.4,369.7 L99.4,440.4 L127.3,451.9 L131.5,457.6 L131.5,699.5 L128.6,703.3 L99.9,703.3 L99.9,661.8 L68.5,661.8 Z"/></clipPath>
<path d="M68.5,369.7 L99.4,369.7 L99.4,440.4 L127.3,451.9 L131.5,457.6 L131.5,699.5 L128.6,703.3 L99.9,703.3 L99.9,661.8 L68.5,661.8 Z" fill="#F7E6CA"/>
<g clip-path="url(#pc)" filter="url(#bl05)"><circle cx="527" cy="749" r="380.0" fill="none" stroke="#FBF2DE" stroke-width="3.7" opacity=".85"/><circle cx="527" cy="749" r="388.5" fill="none" stroke="#FBF2DE" stroke-width="4.5" opacity=".85"/><circle cx="527" cy="749" r="396.9" fill="none" stroke="#FBF2DE" stroke-width="3.8" opacity=".85"/><circle cx="527" cy="749" r="405.4" fill="none" stroke="#FBF2DE" stroke-width="3.3" opacity=".85"/><circle cx="527" cy="749" r="413.8" fill="none" stroke="#FBF2DE" stroke-width="4.0" opacity=".85"/><circle cx="527" cy="749" r="422.8" fill="none" stroke="#FBF2DE" stroke-width="3.2" opacity=".85"/><circle cx="527" cy="749" r="430.8" fill="none" stroke="#FBF2DE" stroke-width="3.1" opacity=".85"/><circle cx="527" cy="749" r="439.9" fill="none" stroke="#FBF2DE" stroke-width="4.1" opacity=".85"/><circle cx="527" cy="749" r="447.3" fill="none" stroke="#FBF2DE" stroke-width="4.6" opacity=".85"/><circle cx="527" cy="749" r="456.7" fill="none" stroke="#FBF2DE" stroke-width="4.0" opacity=".85"/><circle cx="527" cy="749" r="465.3" fill="none" stroke="#FBF2DE" stroke-width="3.3" opacity=".85"/><circle cx="527" cy="749" r="472.7" fill="none" stroke="#FBF2DE" stroke-width="3.8" opacity=".85"/><circle cx="527" cy="749" r="480.3" fill="none" stroke="#FBF2DE" stroke-width="3.3" opacity=".85"/><circle cx="527" cy="749" r="488.1" fill="none" stroke="#FBF2DE" stroke-width="3.0" opacity=".85"/><circle cx="527" cy="749" r="496.5" fill="none" stroke="#FBF2DE" stroke-width="3.7" opacity=".85"/><circle cx="527" cy="749" r="505.6" fill="none" stroke="#FBF2DE" stroke-width="3.8" opacity=".85"/><circle cx="527" cy="749" r="514.2" fill="none" stroke="#FBF2DE" stroke-width="3.8" opacity=".85"/><circle cx="527" cy="749" r="523.0" fill="none" stroke="#FBF2DE" stroke-width="3.7" opacity=".85"/><circle cx="527" cy="749" r="530.9" fill="none" stroke="#FBF2DE" stroke-width="4.6" opacity=".85"/><circle cx="527" cy="749" r="540.3" fill="none" stroke="#FBF2DE" stroke-width="4.3" opacity=".85"/><circle cx="527" cy="749" r="549.1" fill="none" stroke="#FBF2DE" stroke-width="3.5" opacity=".85"/><circle cx="527" cy="749" r="557.0" fill="none" stroke="#FBF2DE" stroke-width="3.5" opacity=".85"/><circle cx="527" cy="749" r="564.5" fill="none" stroke="#FBF2DE" stroke-width="4.2" opacity=".85"/><circle cx="527" cy="749" r="572.7" fill="none" stroke="#FBF2DE" stroke-width="4.4" opacity=".85"/><circle cx="527" cy="749" r="580.9" fill="none" stroke="#FBF2DE" stroke-width="4.5" opacity=".85"/><circle cx="527" cy="749" r="590.0" fill="none" stroke="#FBF2DE" stroke-width="3.0" opacity=".85"/><circle cx="527" cy="749" r="597.8" fill="none" stroke="#FBF2DE" stroke-width="4.5" opacity=".85"/></g>
<path d="M68.5,369.7 L99.4,369.7 L99.4,440.4 L127.3,451.9 L131.5,457.6 L131.5,699.5 L128.6,703.3 L99.9,703.3 L99.9,661.8 L68.5,661.8 Z" fill="none" stroke="#4a4640" stroke-width="1.1" stroke-linejoin="round"/>
<path d="M99.6,370.5 l0.9,0.8 l-0.9,0.8 l0.9,0.8 l-0.9,0.8 l0.9,0.8 l-0.9,0.8 l0.9,0.8 l-0.9,0.8 l0.9,0.8 l-0.9,0.8 l0.9,0.8 l-0.9,0.8 l0.9,0.8 l-0.9,0.8 l0.9,0.8 l-0.9,0.8 l0.9,0.8 l-0.9,0.8 l0.9,0.8 l-0.9,0.8 l0.9,0.8 l-0.9,0.8 l0.9,0.8 l-0.9,0.8 l0.9,0.8 l-0.9,0.8 l0.9,0.8 l-0.9,0.8 l0.9,0.8 l-0.9,0.8 l0.9,0.8 l-0.9,0.8 l0.9,0.8 l-0.9,0.8 l0.9,0.8 l-0.9,0.8 l0.9,0.8 l-0.9,0.8 l0.9,0.8 l-0.9,0.8 l0.9,0.8 l-0.9,0.8 l0.9,0.8 l-0.9,0.8 l0.9,0.8 l-0.9,0.8 l0.9,0.8 l-0.9,0.8 l0.9,0.8 l-0.9,0.8 l0.9,0.8 l-0.9,0.8 l0.9,0.8 l-0.9,0.8 l0.9,0.8 l-0.9,0.8 l0.9,0.8 l-0.9,0.8 l0.9,0.8 l-0.9,0.8 l0.9,0.8 l-0.9,0.8 l0.9,0.8 l-0.9,0.8 l0.9,0.8 l-0.9,0.8 l0.9,0.8 l-0.9,0.8 l0.9,0.8 l-0.9,0.8 l0.9,0.8 l-0.9,0.8 l0.9,0.8 l-0.9,0.8 l0.9,0.8 l-0.9,0.8 l0.9,0.8 l-0.9,0.8 l0.9,0.8 l-0.9,0.8 l0.9,0.8 l-0.9,0.8 l0.9,0.8 l-0.9,0.8 l0.9,0.8 l-0.9,0.8" fill="none" stroke="#2b2823" stroke-width="0.9"/>
<path d="M99.4,440.2 L127.6,451.8" fill="none" stroke="#1d1b18" stroke-width="1.8" stroke-dasharray="1.3 0.9"/>
<path d="M100,703.7 L128.6,703.7" fill="none" stroke="#1d1b18" stroke-width="1.6" stroke-dasharray="1.2 1"/>
<path d="M131.7,457.6 L131.7,699.5" fill="none" stroke="#1d1b18" stroke-width="2.2"/>
<path d="M132.6,459.0 l1.8,1.0 l-1.8,1.9 l0,0.8 l1.9,1.3 l-1.9,2.3 l0,0.3 l2.1,0.8 l-2.1,1.6 l0,0.6 l2.3,1.0 l-2.3,1.9 l0,1.0 l1.7,1.4 l-1.7,2.6 l0,1.2 l1.9,0.9 l-1.9,1.8 l0,1.6 l2.0,1.2 l-2.0,2.2 l0,1.3 l2.0,0.9 l-2.0,1.6 l0,1.1 l1.2,1.1 l-1.2,2.0 l0,1.6 l2.0,1.2 l-2.0,2.2 l0,1.6 l2.2,1.3 l-2.2,2.5 l0,0.8 l1.7,1.4 l-1.7,2.6 l0,1.7 l1.3,1.5 l-1.3,2.7 l0,0.4 l2.3,1.0 l-2.3,1.8 l0,0.9 l1.5,1.3 l-1.5,2.4 l0,1.0 l1.6,1.1 l-1.6,2.1 l0,1.1 l2.2,1.2 l-2.2,2.3 l0,1.3 l2.1,1.5 l-2.1,2.8 l0,1.8 l1.4,1.3 l-1.4,2.4 l0,1.6 l2.2,1.5 l-2.2,2.8 l0,1.1 l1.4,1.3 l-1.4,2.5 l0,1.5 l1.5,1.2 l-1.5,2.3 l0,0.3 l2.3,1.4 l-2.3,2.7 l0,0.3 l1.7,1.4 l-1.7,2.6 l0,0.4 l2.0,1.0 l-2.0,1.9 l0,1.6 l1.9,0.9 l-1.9,1.6 l0,0.3 l1.6,1.3 l-1.6,2.5 l0,1.6 l1.8,1.5 l-1.8,2.8 l0,1.8 l1.3,1.1 l-1.3,2.0 l0,1.2 l1.4,0.9 l-1.4,1.6 l0,0.9 l1.4,1.3 l-1.4,2.4 l0,0.3 l1.5,1.4 l-1.5,2.7 l0,1.7 l1.6,1.5 l-1.6,2.7 l0,0.9 l1.9,1.2 l-1.9,2.2 l0,1.2 l1.9,1.2 l-1.9,2.3 l0,1.7 l1.7,1.2 l-1.7,2.2 l0,1.4 l1.5,1.0 l-1.5,1.9 l0,1.8 l1.8,1.2 l-1.8,2.2 l0,0.2 l1.8,1.1 l-1.8,2.1 l0,0.2 l1.9,1.3 l-1.9,2.4 l0,0.3 l1.7,1.3 l-1.7,2.4 l0,1.3 l2.0,1.1 l-2.0,2.0 l0,1.4 l1.3,0.9 l-1.3,1.6 l0,1.3 l1.5,1.5 l-1.5,2.8 l0,0.9 l1.6,1.3 l-1.6,2.3 l0,0.8 l1.6,1.1 l-1.6,2.0 l0,1.2 l1.6,1.1 l-1.6,2.0 l0,1.4 l1.8,0.9 l-1.8,1.6 l0,1.4 l1.4,1.1 l-1.4,2.0 l0,1.5 l1.4,1.0 l-1.4,1.9 l0,0.9 l1.3,1.3 l-1.3,2.5 l0,0.7 l2.1,1.1 l-2.1,2.0 l0,0.9 l1.4,1.4 l-1.4,2.7 l0,0.7 l2.2,1.3 l-2.2,2.4 l0,0.9 L132.6,698 Z" fill="#1d1b18" stroke="#1d1b18" stroke-width="0.6" stroke-linejoin="round"/>
<line x1="62.8" y1="347.7" x2="134.9" y2="347.7" stroke="#3c3c3c" stroke-width="1.2" fill="none"/>
<line x1="68.3" y1="342.1" x2="68.3" y2="358.9" stroke="#3c3c3c" stroke-width="1.2" fill="none"/>
<line x1="64.2" y1="352.3" x2="72.39999999999999" y2="343.3" stroke="#222" stroke-width="1.3" fill="none"/>
<line x1="129.2" y1="342.1" x2="129.2" y2="358.9" stroke="#3c3c3c" stroke-width="1.2" fill="none"/>
<line x1="125.1" y1="352.3" x2="133.29999999999998" y2="343.3" stroke="#222" stroke-width="1.3" fill="none"/>
<line x1="46.6" y1="364.2" x2="46.6" y2="668.4" stroke="#3c3c3c" stroke-width="1.2" fill="none"/>
<line x1="40.2" y1="370.2" x2="57.7" y2="370.2" stroke="#3c3c3c" stroke-width="1.2" fill="none"/>
<line x1="42.4" y1="365.8" x2="50.800000000000004" y2="374.8" stroke="#222" stroke-width="1.3" fill="none"/>
<line x1="40.2" y1="662.4" x2="57.7" y2="662.4" stroke="#3c3c3c" stroke-width="1.2" fill="none"/>
<line x1="42.4" y1="658.0" x2="50.800000000000004" y2="667.0" stroke="#222" stroke-width="1.3" fill="none"/>
<line x1="167" y1="364.2" x2="167" y2="709.2" stroke="#3c3c3c" stroke-width="1.2" fill="none"/>
<line x1="155.9" y1="370.2" x2="172.5" y2="370.2" stroke="#3c3c3c" stroke-width="1.2" fill="none"/>
<line x1="162.8" y1="365.8" x2="171.2" y2="374.8" stroke="#222" stroke-width="1.3" fill="none"/>
<line x1="155.9" y1="703.5" x2="172.5" y2="703.5" stroke="#3c3c3c" stroke-width="1.2" fill="none"/>
<line x1="162.8" y1="699.1" x2="171.2" y2="708.1" stroke="#222" stroke-width="1.3" fill="none"/>
</g>
</svg>
<h1 class="ln"><span class="t b tho" id="hw0" style="left:26px;top:18px;font-size:30.5px;transform:translateX(0.63px) scaleX(0.8902);">Falsad</span> <span class="t b tho" id="hw1" style="left:120px;top:18px;font-size:30.5px;transform:translateX(0.55px) scaleX(0.9546);">spårpanel</span> <span class="t b tho" id="hw2" style="left:263px;top:18px;font-size:30.5px;transform:translateX(0.64px) scaleX(0.9974);">med</span> <span class="t b tho" id="hw3" style="left:334px;top:18px;font-size:30.5px;transform:translateX(0.61px) scaleX(0.9336);">fasad</span> <span class="t b tho" id="hw4" style="left:416px;top:18px;font-size:30.5px;transform:translateX(0.32px) scaleX(1.0314);">kant*</span></h1>
<p class="ln"><span class="t th" id="l1w0" style="left:4px;top:96px;font-size:29.5px;transform:translateX(0.23px) scaleX(0.8792);">En</span> <span class="t th" id="l1w1" style="left:43px;top:96px;font-size:29.5px;transform:translateX(0.86px) scaleX(0.9683);">finsågad</span> <span class="t th" id="l1w2" style="left:160px;top:96px;font-size:29.5px;transform:translateX(0.39px) scaleX(1.0011);">framsida.</span></p>
<p class="ln"><span class="t th" id="l2w0" style="left:4px;top:136px;font-size:29.5px;transform:translateX(0.71px) scaleX(0.9601);">Tre</span> <span class="t th" id="l2w1" style="left:50px;top:136px;font-size:29.5px;transform:translateX(0.76px) scaleX(1.0321);">hyvlade</span> <span class="t th" id="l2w2" style="left:162px;top:136px;font-size:29.5px;transform:translateX(0.91px) scaleX(0.9841);">sidor.</span></p>
<p class="ln"><span class="t th" id="l3w0" style="left:4px;top:175px;font-size:29.5px;transform:translateX(0.10px) scaleX(0.9369);">Fasen,</span> <span class="t th" id="l3w1" style="left:92px;top:175px;font-size:29.5px;transform:translateX(0.65px) scaleX(0.9916);">undersidan</span> <span class="t th" id="l3w2" style="left:242px;top:175px;font-size:29.5px;transform:translateX(0.13px) scaleX(1.0910);">och</span> <span class="t th" id="l3w3" style="left:300px;top:175px;font-size:29.5px;transform:translateX(0.29px) scaleX(1.0004);">spåret</span> <span class="t th" id="l3w4" style="left:388px;top:175px;font-size:29.5px;transform:translateX(0.88px) scaleX(0.9406);">är</span> <span class="t th" id="l3w5" style="left:421px;top:175px;font-size:29.5px;transform:translateX(0.20px) scaleX(1.0143);">rillade.</span></p>
<p class="ln"><span class="t th" id="l4w0" style="left:4px;top:214px;font-size:29.5px;transform:translateX(0.35px) scaleX(0.8707);">Två</span> <span class="t th" id="l4w1" style="left:54px;top:214px;font-size:29.5px;transform:translateX(0.62px) scaleX(1.0139);">rundade</span> <span class="t th" id="l4w2" style="left:171px;top:214px;font-size:29.5px;transform:translateX(0.67px) scaleX(1.0117);">eller</span> <span class="t th" id="l4w3" style="left:236px;top:214px;font-size:29.5px;transform:translateX(0.25px) scaleX(0.9808);">fasade</span> <span class="t th" id="l4w4" style="left:328px;top:214px;font-size:29.5px;transform:translateX(0.87px) scaleX(1.0821);">hörn</span> <span class="t th" id="l4w5" style="left:397px;top:214px;font-size:29.5px;transform:translateX(0.31px) scaleX(1.0115);">med</span> <span class="t th" id="l4w6" style="left:462px;top:214px;font-size:29.5px;transform:translateX(0.07px) scaleX(1.0289);">rillning.</span></p>
<p class="ln"><span class="t th" id="l5w0" style="left:3px;top:253px;font-size:29.5px;transform:translateX(0.63px) scaleX(0.9828);">Liggande</span> <span class="t th" id="l5w1" style="left:129px;top:253px;font-size:29.5px;transform:translateX(0.40px) scaleX(1.0511);">montering</span> <span class="t th" id="l5w2" style="left:273px;top:253px;font-size:29.5px;transform:translateX(0.07px) scaleX(1.0002);">rekommenderas.</span></p>
<div class="ln"><span class="t i th" id="dA" style="left:92px;top:317px;font-size:28px;transform:translateX(0.95px) scaleX(0.9150);">A</span></div>
<div class="ln"><span class="t b i thb" id="tA" style="left:26px;top:744px;font-size:30.5px;transform:translateX(0.29px) scaleX(0.9688);">A</span> <span class="t th" id="tx1" style="left:54px;top:744px;font-size:34px;transform:translateX(0.22px) scaleX(1.0457);">×</span> <span class="t i th" id="tB" style="left:88px;top:744px;font-size:30.5px;transform:translateX(0.92px) scaleX(0.8379);">B</span> <span class="t i th" id="tC" style="left:182px;top:744px;font-size:30.5px;transform:translateX(0.34px) scaleX(0.8088);">C</span> <span class="t th" id="tTw0" style="left:207px;top:746px;font-size:29.5px;transform:translateX(0.25px) scaleX(1.0126);">(täckande</span> <span class="t th" id="tTw1" style="left:343px;top:746px;font-size:29.5px;transform:translateX(0.83px) scaleX(1.0538);">bredd)</span></div>
<div class="ln"><span class="t b thb" id="t22" style="left:7px;top:818px;font-size:30.5px;transform:translateX(0.11px) scaleX(1.0768);">22</span> <span class="t th" id="tx2" style="left:54px;top:818px;font-size:34px;transform:translateX(0.26px) scaleX(1.0447);">×</span> <span class="t th" id="t120" style="left:83px;top:818px;font-size:30.5px;transform:translateX(0.87px) scaleX(1.0381);">120</span> <span class="t th" id="t105" style="left:176px;top:818px;font-size:30.5px;transform:translateX(0.59px) scaleX(1.0720);">105</span></div>
<div class="ln"><span class="t th" id="t145" style="left:83px;top:855px;font-size:30.5px;transform:translateX(0.94px) scaleX(1.0390);">145</span> <span class="t th" id="t130" style="left:176px;top:855px;font-size:30.5px;transform:translateX(0.61px) scaleX(1.0695);">130</span></div>
<p class="ln"><span class="t th" id="fnw0" style="left:4px;top:914px;font-size:29.5px;transform:translateX(0.23px) scaleX(0.9909);">*</span> <span class="t th" id="fnw1" style="left:24px;top:914px;font-size:29.5px;transform:translateX(0.62px) scaleX(0.8768);">Ej</span> <span class="t th" id="fnw2" style="left:54px;top:914px;font-size:29.5px;transform:translateX(0.80px) scaleX(0.9487);">svensk</span> <span class="t th" id="fnw3" style="left:151px;top:914px;font-size:29.5px;transform:translateX(0.32px) scaleX(1.0051);">standard.</span></p>
<div class="rot" style="left:38.8px;top:523.7px;"><span class="i th" style="font-size:28px;transform:scaleX(.92);transform-origin:0 0;">C</span></div>
<div class="rot" style="left:159.3px;top:543.0px;"><span class="i th" style="font-size:28px;transform:scaleX(.875);transform-origin:0 0;">B</span></div>
</body>
</html>
